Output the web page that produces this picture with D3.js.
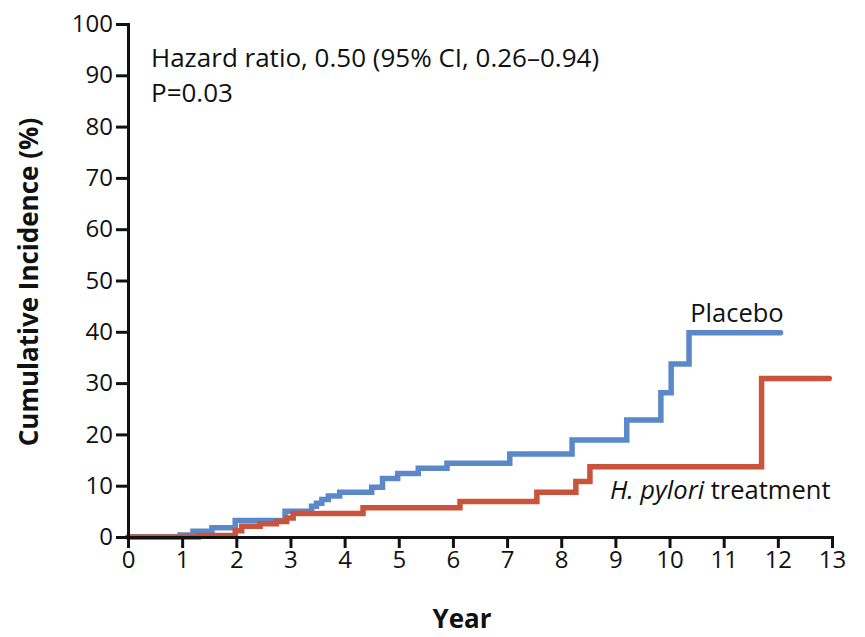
<!DOCTYPE html>
<html>
  <head>
    <title>Cumulative incidence</title>
    <script type="text/javascript" src="https://cdnjs.cloudflare.com/ajax/libs/d3/7.8.5/d3.min.js"></script>
    <style>
      body { margin: 0; background: #fff; }
      text { font-family: "Open Sans", sans-serif; fill: #111; }
    </style>
  </head>
  <body>
  <script>

    // step points: [year, cumulative incidence %]
    var placebo = [
      [0, 0], [0.96, 0.4], [1.2, 1.1], [1.55, 1.8], [1.98, 3.2], [2.9, 5.0],
      [3.39, 6.0], [3.48, 6.6], [3.58, 7.3], [3.7, 8.0], [3.91, 8.7],
      [4.5, 9.7], [4.7, 11.4], [4.98, 12.4], [5.36, 13.4], [5.89, 14.4],
      [7.05, 16.2], [8.2, 18.9], [9.21, 22.8], [9.84, 28.1], [10.03, 33.7],
      [10.36, 39.8], [12.05, 39.8]
    ];
    var treatment = [
      [0, 0], [1.3, 0.3], [1.98, 1.2], [2.1, 2.1], [2.44, 2.6], [2.74, 3.0],
      [2.93, 3.7], [3.05, 4.6], [4.34, 5.7], [6.13, 6.9], [7.55, 8.7],
      [8.27, 10.8], [8.53, 13.7], [11.7, 30.9], [12.95, 30.9]
    ];
    var xTicks = d3.range(0, 14);
    var yTicks = d3.range(0, 101, 10);

    var svg = d3.select('body')
              .append('svg')
              .attr('width', 865)
              .attr('height', 637);

    var x = d3.scaleLinear()
      .domain([0, 13])
      .range([128, 832]);

    var y = d3.scaleLinear()
      .domain([0, 100])
      .range([537, 24]);

    var line = d3.line()
      .x(function(d) { return x(d[0]); })
      .y(function(d) { return y(d[1]); })
      .curve(d3.curveStepAfter);

    svg.append('path')
      .attr('d', line(placebo))
      .attr('fill', 'none')
      .attr('stroke', '#5b88c8')
      .attr('stroke-width', 5.5)
      .attr('stroke-linecap', 'round');

    svg.append('path')
      .attr('d', line(treatment))
      .attr('fill', 'none')
      .attr('stroke', '#c9533b')
      .attr('stroke-width', 5.5)
      .attr('stroke-linecap', 'round');

    // axes
    var xAxis = svg.append('g')
      .attr('transform', 'translate(0,537)')
      .call(d3.axisBottom(x).tickValues(xTicks).tickSize(11).tickPadding(3).tickFormat(d3.format('d')));

    var yAxis = svg.append('g')
      .attr('transform', 'translate(128,0)')
      .call(d3.axisLeft(y).tickValues(yTicks).tickSize(12).tickPadding(3).tickFormat(d3.format('d')));

    [xAxis, yAxis].forEach(function(g) {
      g.select('.domain').attr('stroke', '#111').attr('stroke-width', 3);
      g.selectAll('.tick line').attr('stroke', '#111').attr('stroke-width', 3);
      g.selectAll('.tick text').attr('font-size', 24).attr('font-family', '"Open Sans", sans-serif').attr('fill', '#111');
    });

    // axis titles
    svg.append('text')
      .attr('x', 462)
      .attr('y', 628)
      .attr('text-anchor', 'middle')
      .attr('font-size', 26)
      .attr('font-weight', 'bold')
      .text('Year');

    svg.append('text')
      .attr('transform', 'translate(38,282) rotate(-90)')
      .attr('text-anchor', 'middle')
      .attr('font-size', 26)
      .attr('font-weight', 'bold')
      .text('Cumulative Incidence (%)');

    // annotations
    svg.append('text')
      .attr('x', 151)
      .attr('y', 67)
      .attr('font-size', 26)
      .text('Hazard ratio, 0.50 (95% CI, 0.26\u20130.94)');

    svg.append('text')
      .attr('x', 151)
      .attr('y', 102)
      .attr('font-size', 26)
      .text('P=0.03');

    svg.append('text')
      .attr('x', 737)
      .attr('y', 322)
      .attr('text-anchor', 'middle')
      .attr('font-size', 25.5)
      .text('Placebo');

    var lab = svg.append('text')
      .attr('x', 610)
      .attr('y', 499)
      .attr('font-size', 25.5);
    lab.append('tspan').attr('font-style', 'italic').text('H. pylori');
    lab.append('tspan').text(' treatment');

  </script>
 </body>
</html>
